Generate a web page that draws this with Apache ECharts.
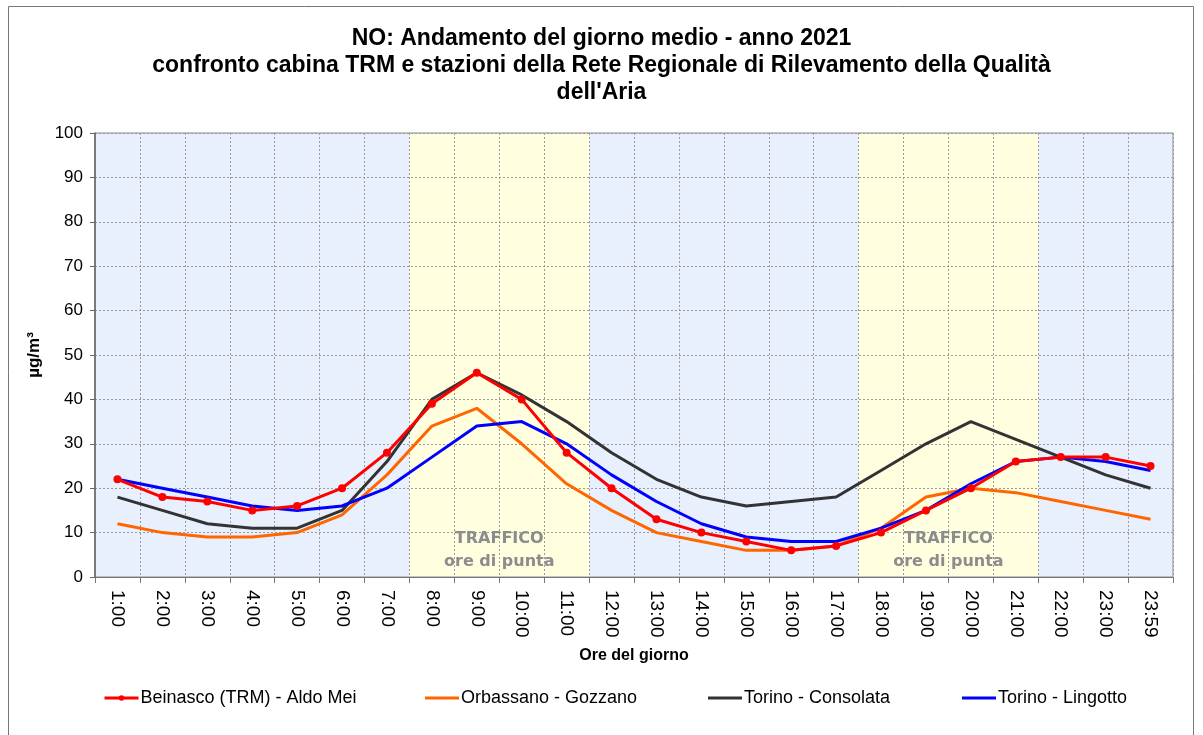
<!DOCTYPE html>
<html>
<head>
<meta charset="utf-8">
<script src="https://cdn.jsdelivr.net/npm/echarts@6/dist/echarts.min.js"></script>
<style>
  html, body { margin: 0; padding: 0; background: #fff; }
  #main { width: 1203px; height: 735px; }
</style>
</head>
<body>
<div id="main"></div>
<script>
var myChart = echarts.init(document.getElementById("main"));

var hours = ["1:00", "2:00", "3:00", "4:00", "5:00", "6:00", "7:00", "8:00", "9:00", "10:00", "11:00", "12:00",
  "13:00", "14:00", "15:00", "16:00", "17:00", "18:00", "19:00", "20:00", "21:00", "22:00", "23:00", "23:59"];

var beinasco = [22, 18, 17, 15, 16, 20, 28, 39, 46, 40, 28, 20, 13, 10, 8, 6, 7, 10, 15, 20, 26, 27, 27, 25];
var orbassano = [12, 10, 9, 9, 10, 14, 23, 34, 38, 30, 21, 15, 10, 8, 6, 6, 7, 11, 18, 20, 19, 17, 15, 13];
var consolata = [18, 15, 12, 11, 11, 15, 26, 40, 46, 41, 35, 28, 22, 18, 16, 17, 18, 24, 30, 35, 31, 27, 23, 20];
var lingotto = [22, 20, 18, 16, 15, 16, 20, 27, 34, 35, 30, 23, 17, 12, 9, 8, 8, 11, 15, 21, 26, 27, 26, 24];

// fasce orarie: 0 = normale, 1 = ore di punta
var bands = [0, 0, 0, 0, 0, 0, 0, 1, 1, 1, 1, 0, 0, 0, 0, 0, 0, 1, 1, 1, 1, 0, 0, 0];
var peakRanges = [["8:00", "11:00"], ["18:00", "21:00"]];

var seriesNames = ["Beinasco (TRM) - Aldo Mei", "Orbassano - Gozzano", "Torino - Consolata", "Torino - Lingotto"];
var legendLeft = [103, 425, 708, 962];

var font = "Liberation Sans, Arial, sans-serif";

var legends = seriesNames.map(function (n, i) {
  var l = {
    data: [n],
    left: legendLeft[i],
    top: 689,
    padding: 0,
    itemWidth: 34,
    itemHeight: i === 0 ? 7 : 3,
    itemGap: 0,
    lineStyle: { width: 3 },
    textStyle: { fontFamily: font, fontSize: 18, color: "#000", padding: [0, 0, 0, -3] }
  };
  if (i > 0) l.icon = "rect";
  return l;
});

var option = {
  animation: false,
  backgroundColor: "#fff",
  title: {
    text: "NO: Andamento del giorno medio - anno 2021\nconfronto cabina TRM e stazioni della Rete Regionale di Rilevamento della Qualità\ndell'Aria",
    left: "center",
    top: 20,
    textStyle: { fontFamily: font, fontSize: 23, fontWeight: "bold", color: "#000", lineHeight: 27 }
  },
  legend: legends,
  grid: {
    left: 95, top: 133, width: 1078, height: 444,
    show: true, borderColor: "#8a8a8a", borderWidth: 1, backgroundColor: "transparent"
  },
  xAxis: {
    type: "category",
    data: hours,
    boundaryGap: true,
    name: "Ore del giorno",
    nameLocation: "middle",
    nameGap: 71,
    nameTextStyle: { fontFamily: font, fontSize: 16, fontWeight: "bold", color: "#000" },
    axisLine: { lineStyle: { color: "#777", width: 1 } },
    axisTick: { show: true, length: 6, lineStyle: { color: "#777" } },
    axisLabel: { rotate: -90, margin: 13, fontFamily: font, fontSize: 19, color: "#000", interval: 0 },
    splitLine: { show: true, lineStyle: { color: "#9a9a9a", type: [2, 2], width: 1 } }
  },
  yAxis: {
    type: "value",
    min: 0, max: 100, interval: 10,
    name: "µg/m³",
    nameLocation: "middle",
    nameGap: 52,
    nameTextStyle: { fontFamily: font, fontSize: 17, fontWeight: "bold", color: "#000" },
    axisLine: { show: true, lineStyle: { color: "#666", width: 1.5 } },
    axisTick: { show: true, length: 5, lineStyle: { color: "#666" } },
    axisLabel: { margin: 12, fontFamily: font, fontSize: 17, color: "#000" },
    splitLine: { show: true, lineStyle: { color: "#9a9a9a", type: [2, 2], width: 1 } }
  },
  series: [
    {
      name: "fasce",
      type: "bar",
      silent: true,
      z: -1,
      barCategoryGap: "0%",
      data: bands.map(function (b) {
        return { value: 100, itemStyle: { color: b ? "#ffffe0" : "#e8effd" } };
      })
    },
    {
      name: seriesNames[0], type: "line", data: beinasco,
      symbol: "circle", symbolSize: 8, z: 6,
      lineStyle: { color: "#ff0000", width: 3 }, itemStyle: { color: "#ff0000" }
    },
    {
      name: seriesNames[1], type: "line", data: orbassano, showSymbol: false, z: 3,
      lineStyle: { color: "#ff6600", width: 3 }, itemStyle: { color: "#ff6600" }
    },
    {
      name: seriesNames[2], type: "line", data: consolata, showSymbol: false, z: 4,
      lineStyle: { color: "#333333", width: 3 }, itemStyle: { color: "#333333" }
    },
    {
      name: seriesNames[3], type: "line", data: lingotto, showSymbol: false, z: 5,
      lineStyle: { color: "#0000ff", width: 3 }, itemStyle: { color: "#0000ff" }
    }
  ],
  graphic: [
    {
      type: "rect", silent: true, z: 100,
      shape: { x: 8.5, y: 6.5, width: 1185, height: 740 },
      style: { fill: "none", stroke: "#777", lineWidth: 1 }
    }
  ]
};

myChart.setOption(option);

// scritte "TRAFFICO / ore di punta" al centro delle fasce di punta
var labels = [];
peakRanges.forEach(function (r) {
  var x = (myChart.convertToPixel({ xAxisIndex: 0 }, r[0]) + myChart.convertToPixel({ xAxisIndex: 0 }, r[1])) / 2;
  var y1 = myChart.convertToPixel({ yAxisIndex: 0 }, 8.6);
  var y2 = myChart.convertToPixel({ yAxisIndex: 0 }, 3.4);
  labels.push({
    type: "text", silent: true, z: 1, x: x, y: y1,
    style: { text: "TRAFFICO", fill: "#8c8c8c", font: "bold 16px 'DejaVu Sans'", align: "center", verticalAlign: "middle" }
  });
  labels.push({
    type: "text", silent: true, z: 1, x: x, y: y2,
    style: { text: "ore di punta", fill: "#8c8c8c", font: "bold 16px 'DejaVu Sans'", align: "center", verticalAlign: "middle" }
  });
});
myChart.setOption({ graphic: option.graphic.concat(labels) });
</script>
</body>
</html>
